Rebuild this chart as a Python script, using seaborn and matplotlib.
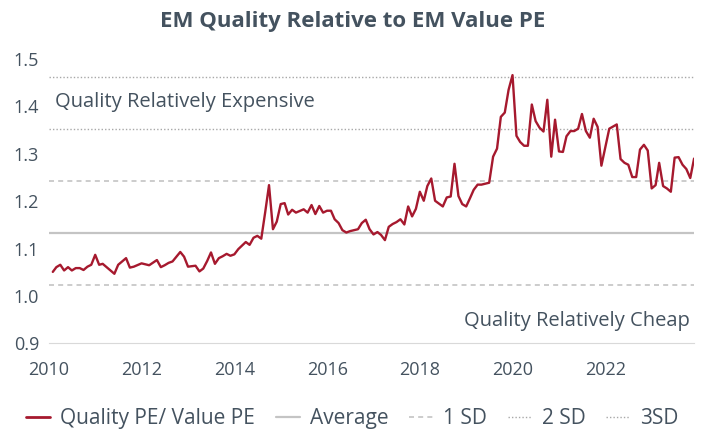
import numpy as np
import pandas as pd
import matplotlib.pyplot as plt
from matplotlib.lines import Line2D
import seaborn as sns

# month number counted from Jan 2010 (1) and the ratio read at each vertex of the line
month_no = [1, 2, 3, 4, 5, 6, 7, 8, 9, 10, 11, 12, 13, 14, 15, 17, 18, 20, 21, 22,
            24, 25, 26, 28, 29, 30, 31, 32, 34, 35, 36, 38, 39, 40, 41, 42, 43, 44, 45, 46,
            47, 48, 49, 50, 51, 52, 53, 54, 55, 56, 57, 58, 59, 60, 61, 62, 63, 64, 66, 67,
            68, 69, 70, 71, 72, 73, 74, 75, 76, 77, 78, 80, 81, 82, 83, 84, 85, 86, 87, 88,
            89, 90, 91, 92, 93, 94, 95, 96, 97, 98, 99, 100, 101, 102, 103, 104, 105, 106, 107, 108,
            109, 110, 111, 112, 114, 115, 116, 117, 118, 119, 120, 121, 122, 123, 124, 125, 126, 127, 128, 129,
            130, 131, 132, 133, 134, 135, 136, 137, 138, 139, 140, 141, 142, 143, 144, 145, 147, 148, 149, 150,
            151, 152, 153, 154, 155, 156, 157, 158, 159, 160, 161, 162, 163, 164, 165, 166, 167]
ratio = [1.051, 1.061, 1.066, 1.054, 1.061, 1.054, 1.059, 1.059, 1.055, 1.062, 1.066, 1.087, 1.066, 1.068, 1.061, 1.047, 1.066, 1.080, 1.060, 1.062,
         1.069, 1.067, 1.065, 1.076, 1.061, 1.065, 1.070, 1.073, 1.093, 1.083, 1.062, 1.064, 1.052, 1.058, 1.074, 1.092, 1.068, 1.080, 1.084, 1.089,
         1.085, 1.088, 1.099, 1.106, 1.114, 1.108, 1.123, 1.127, 1.121, 1.177, 1.234, 1.141, 1.157, 1.194, 1.196, 1.172, 1.182, 1.176, 1.183, 1.176,
         1.192, 1.173, 1.190, 1.176, 1.180, 1.180, 1.162, 1.154, 1.139, 1.134, 1.137, 1.141, 1.154, 1.161, 1.141, 1.130, 1.135, 1.129, 1.118, 1.146,
         1.152, 1.156, 1.162, 1.151, 1.189, 1.168, 1.184, 1.220, 1.201, 1.232, 1.248, 1.201, 1.195, 1.189, 1.208, 1.210, 1.279, 1.211, 1.194, 1.189,
         1.207, 1.224, 1.235, 1.235, 1.239, 1.294, 1.311, 1.378, 1.387, 1.435, 1.466, 1.338, 1.325, 1.317, 1.317, 1.404, 1.369, 1.355, 1.347, 1.414,
         1.294, 1.372, 1.305, 1.304, 1.337, 1.348, 1.348, 1.353, 1.384, 1.348, 1.334, 1.374, 1.357, 1.275, 1.314, 1.353, 1.362, 1.289, 1.281, 1.277,
         1.251, 1.251, 1.309, 1.319, 1.307, 1.227, 1.234, 1.281, 1.232, 1.227, 1.220, 1.292, 1.293, 1.277, 1.268, 1.249, 1.290]

avg_level = 1.133
sd = 0.1095
year_ticks = [2010, 2012, 2014, 2016, 2018, 2020, 2022]
y_ticks = [0.9, 1.0, 1.1, 1.2, 1.3, 1.4, 1.5]

TEXT = '#44525F'
RED = '#A6192E'
GREY = '#C4C4C4'
DOT = '#A8A8A8'

month_ends = pd.date_range('2010-01-31', periods=167, freq='ME')
df = pd.DataFrame({'date': month_ends[np.array(month_no) - 1], 'ratio': ratio})

sns.set_theme(style='white')
plt.rcParams['font.family'] = ['Open Sans', 'DejaVu Sans']

fig = plt.figure(figsize=(7.05, 4.3), dpi=100)
ax = fig.add_axes([0.0695, 0.2012, 0.915, 0.6616])

# average and standard deviation bands
ax.axhline(avg_level, color=GREY, lw=1.6, zorder=1)
for k in (-1, 1):
    ax.axhline(avg_level + k * sd, color=GREY, lw=1.2, ls=(0, (3, 2.5)), zorder=1)
ax.axhline(avg_level + 2 * sd, color=DOT, lw=1.0, ls=(0, (1, 1.5)), zorder=1)
ax.axhline(avg_level + 3 * sd, color=DOT, lw=1.0, ls=(0, (1, 1.5)), zorder=1)

sns.lineplot(data=df, x='date', y='ratio', color=RED, lw=1.7, ax=ax, zorder=3)

ax.set_xlim(pd.Timestamp('2010-01-01'), pd.Timestamp('2023-11-30'))
ax.set_ylim(0.9, 1.5)
ax.set_xticks([pd.Timestamp(f'{y}-01-01') for y in year_ticks])
ax.set_xticklabels([str(y) for y in year_ticks])
ax.set_yticks(y_ticks)
ax.set_yticklabels([f'{v:.1f}' for v in y_ticks])
ax.set_xlabel('')
ax.set_ylabel('')
ax.tick_params(axis='y', length=0, pad=7, labelsize=13, labelcolor=TEXT)
ax.tick_params(axis='x', length=5, direction='inout', color='#D9D9D9', pad=10,
               labelsize=13, labelcolor=TEXT)
for s in ('left', 'top', 'right'):
    ax.spines[s].set_visible(False)
ax.spines['bottom'].set_color('#D9D9D9')
ax.spines['bottom'].set_linewidth(0.8)
ax.grid(False)

tr = ax.get_yaxis_transform()
ax.text(0.009, 1.41, 'Quality Relatively Expensive', transform=tr, ha='left', va='center',
        fontsize=14.5, color=TEXT)
ax.text(0.994, 0.947, 'Quality Relatively Cheap', transform=tr, ha='right', va='center',
        fontsize=14.5, color=TEXT)

fig.text(0.5, 0.951, 'EM Quality Relative to EM Value PE', ha='center', va='center',
         fontsize=16, fontweight='bold', color=TEXT)

handles = [
    Line2D([], [], color=RED, lw=2),
    Line2D([], [], color=GREY, lw=1.6),
    Line2D([], [], color=GREY, lw=1.2, ls=(0, (3, 2.5))),
    Line2D([], [], color=DOT, lw=1.0, ls=(0, (1, 1.5))),
    Line2D([], [], color=DOT, lw=1.0, ls=(0, (1, 1.5))),
]
labels = ['Quality PE/ Value PE', 'Average', '1 SD', '2 SD', '3SD']
fig.legend(handles, labels, loc='center', bbox_to_anchor=(0.5, 0.026), ncol=5, frameon=False,
           fontsize=15, labelcolor=TEXT, handlelength=1.15, handletextpad=0.48,
           columnspacing=1.0)

fig.savefig('out.png', dpi=100)
